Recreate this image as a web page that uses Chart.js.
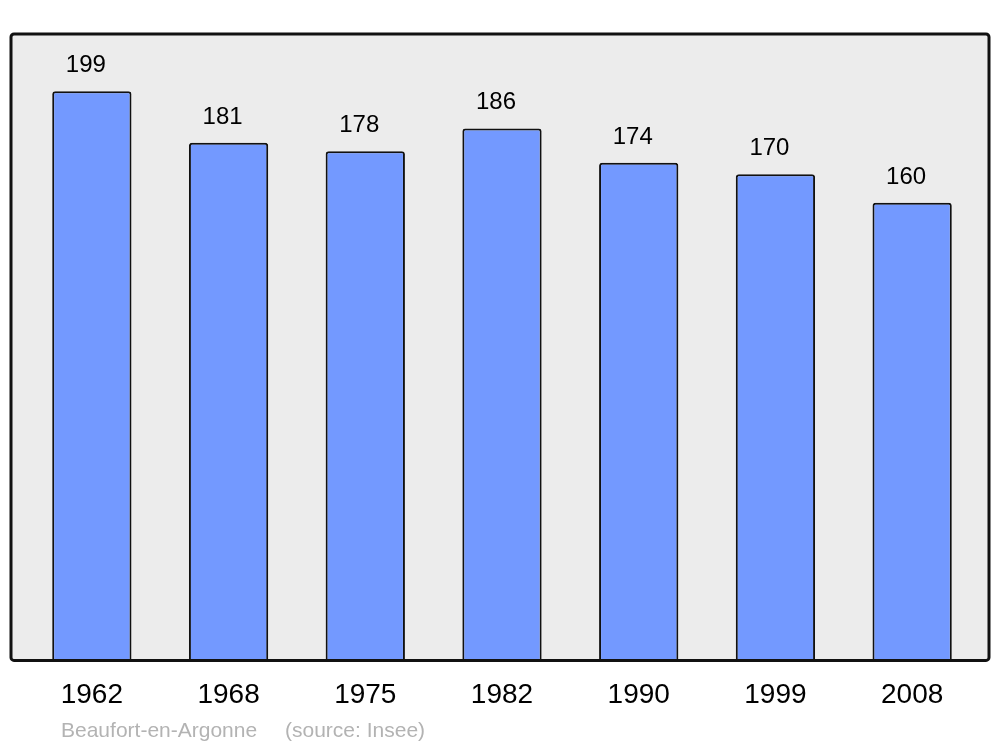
<!DOCTYPE html>
<html>
<head>
<meta charset="utf-8">
<script src="https://cdn.jsdelivr.net/npm/chart.js@4.4.1/dist/chart.umd.min.js"></script>
<style>
  html, body { margin: 0; padding: 0; background: #ffffff; }
  #wrap { width: 1000px; height: 747px; }
</style>
</head>
<body>
<div id="wrap"><canvas id="popChart" width="1000" height="747"></canvas></div>
<script>
const years = ["1962", "1968", "1975", "1982", "1990", "1999", "2008"];
const population = [199, 181, 178, 186, 174, 170, 160];
const yMax = 219;
const footerName = "Beaufort-en-Argonne";
const footerSource = "(source: Insee)";

// grey framed box behind the bars
const framePlugin = {
  id: "frame",
  beforeDatasetsDraw(chart) {
    const { ctx, chartArea: a } = chart;
    ctx.save();
    ctx.fillStyle = "#ececec";
    ctx.fillRect(a.left - 12.5, a.top, a.right - a.left + 21, a.bottom - a.top);
    ctx.restore();
  },
  afterDatasetsDraw(chart) {
    const { ctx, chartArea: a } = chart;
    ctx.save();
    ctx.strokeStyle = "#111111";
    ctx.lineWidth = 3;
    ctx.beginPath();
    ctx.roundRect(a.left - 12.5, a.top, a.right - a.left + 21, a.bottom - a.top, 3);
    ctx.stroke();

    // value labels above bars
    ctx.fillStyle = "#000000";
    ctx.font = "24px 'Liberation Sans', Arial, sans-serif";
    ctx.textAlign = "center";
    ctx.textBaseline = "alphabetic";
    chart.getDatasetMeta(0).data.forEach((bar, i) => {
      ctx.fillText(String(population[i]), bar.x - 6, bar.y - 19);
    });

    // source line
    ctx.fillStyle = "#b3b3b3";
    ctx.font = "21px 'Liberation Sans', Arial, sans-serif";
    ctx.textAlign = "left";
    ctx.fillText(footerName, a.left + 37.5, 737);
    ctx.fillText(footerSource, a.left + 261.5, 737);
    ctx.restore();
  },
};

new Chart(document.getElementById("popChart").getContext("2d"), {
  type: "bar",
  data: {
    labels: years,
    datasets: [
      {
        data: population,
        backgroundColor: "#7399ff",
        borderColor: "#111111",
        borderWidth: 2,
        borderSkipped: "bottom",
        borderRadius: { topLeft: 3, topRight: 3, bottomLeft: 0, bottomRight: 0 },
        barPercentage: 0.58,
        categoryPercentage: 1,
      },
    ],
  },
  options: {
    responsive: false,
    animation: false,
    layout: { padding: { left: 23.5, right: 19.5, top: 34, bottom: 17 } },
    plugins: {
      legend: { display: false },
      tooltip: { enabled: false },
    },
    scales: {
      x: {
        grid: { display: false, drawTicks: false },
        border: { display: false },
        ticks: {
          color: "#000000",
          padding: 18,
          font: { size: 28, family: "'Liberation Sans', Arial, sans-serif" },
        },
      },
      y: {
        display: false,
        min: 0,
        max: yMax,
      },
    },
  },
  plugins: [framePlugin],
});
</script>
</body>
</html>
